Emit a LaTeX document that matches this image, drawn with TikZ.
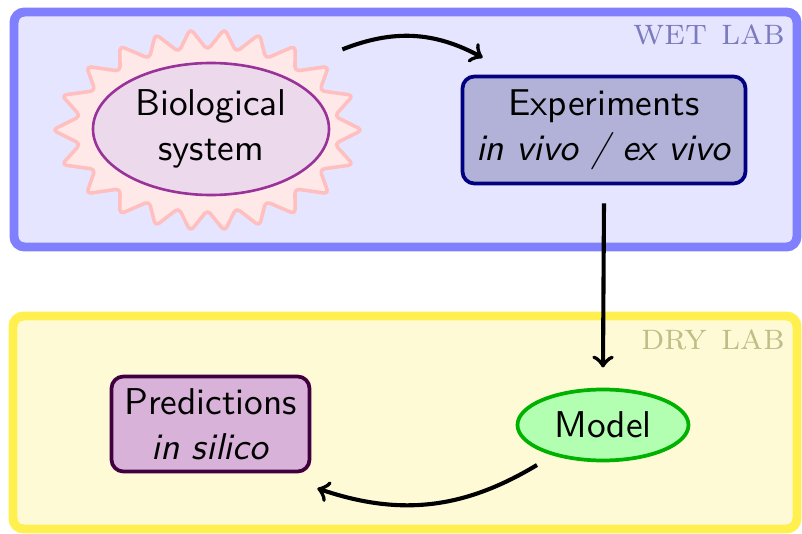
\documentclass[tikz,border=0pt]{standalone}
\usetikzlibrary{shapes.geometric,calc}
\definecolor{wetfill}{RGB}{229,229,255}
\definecolor{wetdraw}{RGB}{128,128,255}
\definecolor{wettext}{RGB}{123,123,190}
\definecolor{dryfill}{RGB}{255,250,214}
\definecolor{drydraw}{RGB}{255,240,80}
\definecolor{drytext}{RGB}{190,190,135}
\tikzset{
  labbox/.style={line width=2.4pt, rounded corners=2.8pt},
  lablabel/.style={anchor=base east, inner sep=0pt, font=\rmfamily\scshape},
  box/.style={rectangle, rounded corners=3.2pt, line width=1pt, align=center, inner sep=0pt, font=\sffamily},
  oval/.style={ellipse, align=center, inner sep=0pt, font=\sffamily},
  conn/.style={-to, line width=1.1pt},
}
\begin{document}
\begin{tikzpicture}[x=0.268pt,y=-0.268pt]
\useasboundingbox (0,0) rectangle (802,534);
% lab areas
\draw[labbox, fill=wetfill, draw=wetdraw] (14,12) rectangle (797,247);
\draw[labbox, fill=dryfill, draw=drydraw] (13,316) rectangle (797,529);
\node[lablabel, text=wettext] (wet) at (786,45) {wet lab};
\node[lablabel, text=drytext] (dry) at (786,349) {dry lab};
% starburst
\draw[fill=red!9, draw=red!25, line width=0.95pt, line join=round, rounded corners=1.2pt]
  plot[samples=44, domain=0:43]
  ({207.5 + (mod(round(\x),2)==0 ? 155 : 129)*cos(\x*8.181818 + 6.5*sin(\x*16.363636))},
   {130 + (mod(round(\x),2)==0 ? 102 : 80)*sin(\x*8.181818 + 6.5*sin(\x*16.363636))}) -- cycle;
% nodes
\node[oval, fill=violet!15, draw=violet!80, line width=0.7pt,
      minimum width={236*0.268pt}, minimum height={132*0.268pt}]
  (bio) at (211,129) {Biological\\system};
\node[box, fill=blue!50!black!30, draw=blue!50!black,
      minimum width={283*0.268pt}, minimum height={107*0.268pt}]
  (exp) at (604,130) {Experiments\\\textit{in vivo / ex vivo}};
\node[box, fill=violet!30, draw=violet!50!black,
      minimum width={198*0.268pt}, minimum height={95*0.268pt}]
  (pred) at (210.5,424) {Predictions\\\textit{in silico}};
\node[oval, fill=green!30, draw=green!70!black, line width=1pt,
      minimum width={171*0.268pt}, minimum height={71*0.268pt}]
  (model) at (603,425) {Model};
% connector ends
\coordinate (s1) at ($(bio.north east)+(47,-32)$);
\coordinate (e1) at ($(exp.north west)+(22,-17)$);
\coordinate (s3) at ($(model)+(-66,40)$);
\coordinate (e3) at ($(pred.south east)+(6,15)$);
% connectors
\draw[conn] (s1) to[bend left=25] (e1);
\draw[conn] ([yshift=-4.8pt]exp.south) -- ([yshift=5.4pt]model.north);
\draw[conn] (s3) to[bend left=25] (e3);
\end{tikzpicture}
\end{document}
